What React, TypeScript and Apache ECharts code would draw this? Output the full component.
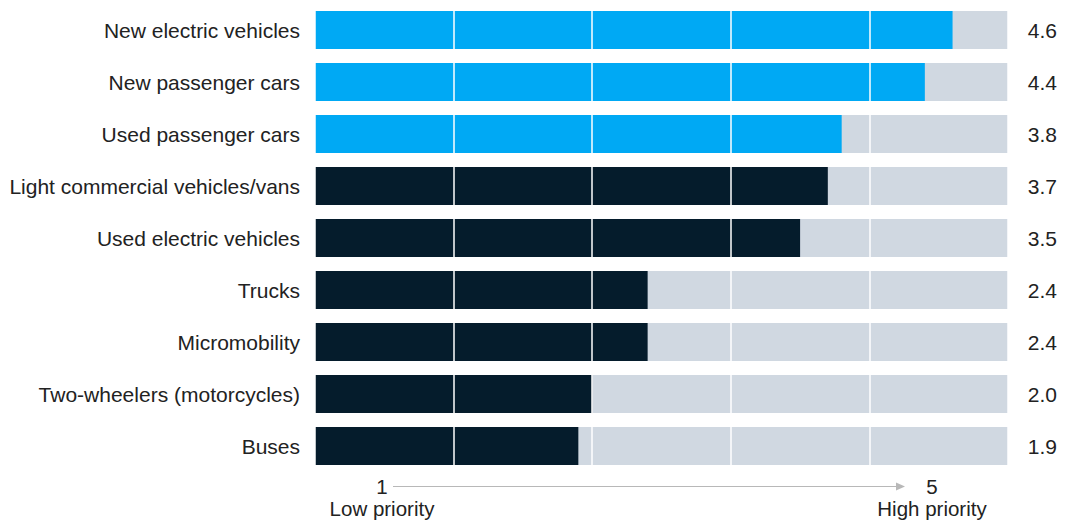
import React, { useEffect, useRef } from "react";
import * as echarts from "echarts";

const categories = [
  "New electric vehicles",
  "New passenger cars",
  "Used passenger cars",
  "Light commercial vehicles/vans",
  "Used electric vehicles",
  "Trucks",
  "Micromobility",
  "Two-wheelers (motorcycles)",
  "Buses",
];
const values = [4.6, 4.4, 3.8, 3.7, 3.5, 2.4, 2.4, 2.0, 1.9];
const highlighted = [true, true, true, false, false, false, false, false, false];
const scaleMax = 5;

const BLUE = "#00A9F4";
const NAVY = "#051C2C";
const GRAY = "#D0D8E1";
const FONT = "Liberation Sans";
const TEXT = "#222222";

export default function App() {
  const ref = useRef<HTMLDivElement>(null);
  useEffect(() => {
    document.body.style.margin = "0";
    if (!ref.current) return;
    const chart = echarts.init(ref.current, undefined, { renderer: "svg" });
    const note = (text: string, x: number, y: number) => ({
      type: "text",
      x,
      y,
      style: { text, fontSize: 20.5, lineHeight: 18, fontFamily: FONT, fill: TEXT, align: "center", verticalAlign: "middle" },
    });
    chart.setOption({
      animation: false,
      grid: { left: 315, right: 59, top: 4, bottom: 49, containLabel: false },
      xAxis: {
        type: "value",
        min: 0,
        max: scaleMax,
        interval: 1,
        z: 10,
        axisLine: { show: false },
        axisTick: { show: false },
        axisLabel: { show: false },
        splitLine: { show: true, lineStyle: { color: "#ffffff", width: 1.5 } },
      },
      yAxis: [
        {
          type: "category",
          data: categories,
          inverse: true,
          axisLine: { show: false },
          axisTick: { show: false },
          axisLabel: { margin: 15, color: TEXT, fontSize: 21, fontFamily: FONT, padding: [3, 0, 0, 0] },
        },
        {
          type: "category",
          data: values.map((v) => v.toFixed(1)),
          inverse: true,
          position: "right",
          axisLine: { show: false },
          axisTick: { show: false },
          axisLabel: { margin: 49, align: "right", color: TEXT, fontSize: 21, fontFamily: FONT, padding: [2, 0, 0, 0] },
        },
      ],
      series: [
        {
          type: "bar",
          data: values.map(() => scaleMax),
          barWidth: 38,
          barGap: "-100%",
          itemStyle: { color: GRAY },
          silent: true,
          z: 1,
        },
        {
          type: "bar",
          data: values.map((v, i) => ({ value: v, itemStyle: { color: highlighted[i] ? BLUE : NAVY } })),
          barWidth: 38,
          z: 2,
        },
      ],
      graphic: [
        note("1", 382, 486),
        note("Low priority", 382, 508),
        note("5", 932, 486),
        note("High priority", 932, 508),
        { type: "line", shape: { x1: 393, y1: 486.5, x2: 897, y2: 486.5 }, style: { stroke: "#B8B8B8", lineWidth: 1 } },
        { type: "polygon", shape: { points: [[896, 482.5], [905, 486.5], [896, 490.5]] }, style: { fill: "#B8B8B8" } },
      ],
    });
    return () => chart.dispose();
  }, []);
  return <div ref={ref} style={{ width: 1067, height: 521 }} />;
}
